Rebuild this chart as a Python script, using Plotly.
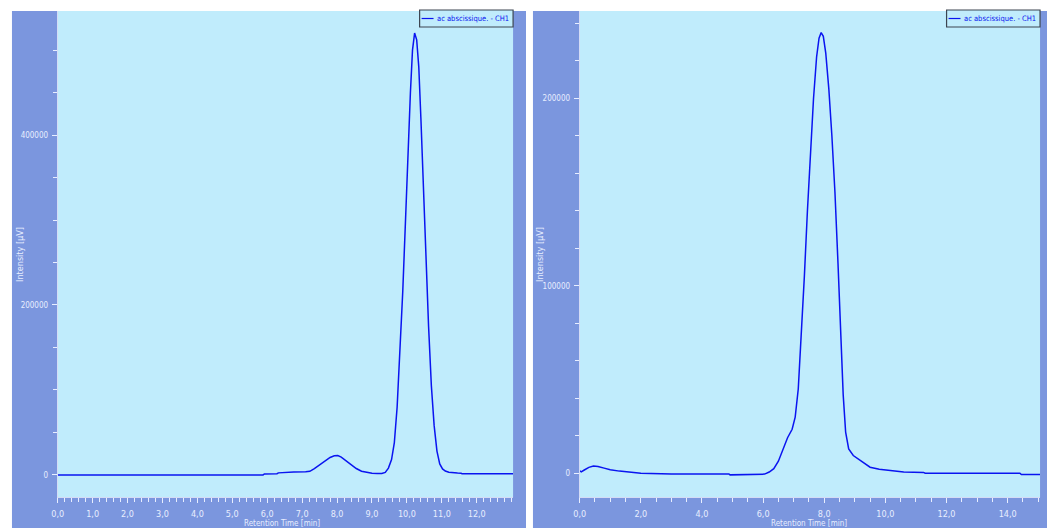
import plotly.graph_objects as go

W, H = 1047, 528

series_name = "ac abscissique. - CH1"

# Chromatogram 1 (retention time in min, intensity in µV)
time_a = [0.0, 1.0, 2.0, 3.0, 4.0, 5.0, 5.88, 5.92, 6.28, 6.32, 6.72, 6.76, 7.1, 7.22,
          7.35, 7.5, 7.65, 7.8, 7.92, 8.02, 8.12, 8.25, 8.4, 8.55, 8.7, 8.85, 9.0, 9.15,
          9.28, 9.38, 9.47, 9.56, 9.64, 9.72, 9.8, 9.88, 9.96, 10.04, 10.1, 10.16, 10.22,
          10.28, 10.34, 10.4, 10.47, 10.54, 10.62, 10.7, 10.78, 10.86, 10.94, 11.02, 11.1,
          11.2, 11.3, 11.45, 11.55, 11.58, 12.3, 13.04]
signal_a = [0, 0, 0, 0, 0, 0, 0, 1200, 1400, 2400, 2600, 3500, 3800, 4200,
            7500, 12000, 16500, 20500, 22500, 22700, 21000, 17000, 12500, 7500, 4300, 2800, 2000, 1600,
            1700, 3000, 8000, 18000, 38000, 80000, 140000, 215000, 300000, 390000, 450000, 500000, 520000,
            512000, 480000, 420000, 340000, 260000, 175000, 105000, 58000, 28000, 13000, 7000, 4500,
            3200, 2500, 2200, 2000, 1500, 1500, 1500]

# Chromatogram 2
time_b = [0.0, 0.05, 0.15, 0.3, 0.45, 0.6, 0.8, 1.0, 1.3, 1.6, 2.0, 3.0, 4.88, 4.92,
          5.9, 6.05, 6.2, 6.35, 6.5, 6.65, 6.8, 6.95, 7.05, 7.15, 7.25, 7.35, 7.45, 7.55,
          7.65, 7.75, 7.83, 7.9, 7.97, 8.05, 8.15, 8.25, 8.35, 8.45, 8.55, 8.62, 8.7,
          8.8, 8.95, 9.1, 9.3, 9.5, 9.8, 10.1, 10.6, 11.25, 11.3, 14.4, 14.45, 15.06]
signal_b = [1400, 800, 1800, 3200, 3900, 3700, 2800, 1900, 1200, 600, 100, -300, -300, -800,
            -800, -400, 700, 2500, 6500, 13000, 19000, 23500, 30000, 45000, 72000, 105000, 140000, 172000,
            200000, 222000, 232000, 235000, 233000, 224000, 205000, 180000, 150000, 112000, 70000, 42000, 22000,
            13000, 9500, 7800, 5200, 3300, 2200, 1600, 700, 500, 100, 100, -600, -600]

# Axis ticks
xticks_a = [0, 1, 2, 3, 4, 5, 6, 7, 8, 9, 10, 11, 12]
xlabels_a = ["0,0", "1,0", "2,0", "3,0", "4,0", "5,0", "6,0", "7,0", "8,0", "9,0", "10,0", "11,0", "12,0"]
yticks_a = [0, 200000, 400000]
ylabels_a = ["0", "200000", "400000"]

xticks_b = [0, 2, 4, 6, 8, 10, 12, 14]
xlabels_b = ["0,0", "2,0", "4,0", "6,0", "8,0", "10,0", "12,0", "14,0"]
yticks_b = [0, 100000, 200000]
ylabels_b = ["0", "100000", "200000"]

# Styling
PANEL = "#7B96DE"
PLOTBG = "#C0ECFC"
LINE = "#0A14F0"
TXT = "#E8EEFF"
FONT = "DejaVu Sans Condensed, Liberation Sans Narrow, sans-serif"


def fx(p):
    return p / W


def fy(p):
    return 1 - p / H


# pixel frames: outer panel and inner plot area
panels = [(6, 523), (530, 1047)]
plots = [(52, 510), (577, 1040)]
PTOP, PBOT = 11, 497

fig = go.Figure()
fig.add_trace(go.Scatter(x=time_a, y=signal_a, mode="lines", name=series_name,
                         line=dict(color=LINE, width=1.5), xaxis="x", yaxis="y"))
fig.add_trace(go.Scatter(x=time_b, y=signal_b, mode="lines", name=series_name,
                         line=dict(color=LINE, width=1.5), xaxis="x2", yaxis="y2"))

shapes = []
for (a, b) in panels:
    shapes.append(dict(type="rect", xref="paper", yref="paper", x0=fx(a), x1=fx(b),
                       y0=fy(H), y1=fy(PTOP), fillcolor=PANEL, line=dict(width=0), layer="below"))
for (a, b) in plots:
    shapes.append(dict(type="rect", xref="paper", yref="paper", x0=fx(a), x1=fx(b),
                       y0=fy(PBOT), y1=fy(PTOP), fillcolor=PLOTBG, line=dict(width=0), layer="below"))

# compact legend boxes in the top-right corner of each plot
LEG_W, LEG_TOP, LEG_BOT = 94, 10, 27
annots = []
for (a, b) in plots:
    shapes.append(dict(type="rect", xref="paper", yref="paper", x0=fx(b - LEG_W), x1=fx(b),
                       y0=fy(LEG_BOT), y1=fy(LEG_TOP), fillcolor=PLOTBG,
                       line=dict(color="#3C4450", width=1.2), layer="above"))
    ymid = (LEG_TOP + LEG_BOT) / 2
    shapes.append(dict(type="line", xref="paper", yref="paper", x0=fx(b - LEG_W + 2),
                       x1=fx(b - LEG_W + 14), y0=fy(ymid), y1=fy(ymid),
                       line=dict(color=LINE, width=1.2), layer="above"))
    annots.append((series_name, fx(b - 2), fy(ymid), 0, "right", LINE, 7.5))


def xaxis(dom, vals, labels, rng, minor, anchor):
    return dict(domain=dom, range=rng, anchor=anchor, tickmode="array", tickvals=vals,
                ticktext=labels, ticks="outside", ticklen=5, tickwidth=1, tickcolor=TXT,
                tickfont=dict(family=FONT, size=9, color=TXT), showgrid=False, zeroline=False,
                showline=True, linecolor="#D4DCF6", linewidth=1, ticklabelstandoff=3,
                minor=dict(tickmode="linear", tick0=0, dtick=minor, ticks="outside",
                           ticklen=4, tickcolor=TXT, showgrid=False))


def yaxis(dom, vals, labels, rng, minor, anchor):
    return dict(domain=dom, range=rng, anchor=anchor, tickmode="array", tickvals=vals,
                ticktext=labels, ticks="outside", ticklen=5, tickwidth=1, tickcolor=TXT,
                tickfont=dict(family=FONT, size=8, color=TXT), showgrid=False, zeroline=False,
                showline=True, linecolor="#D4DCF6", linewidth=1, ticklabelstandoff=2,
                minor=dict(tickmode="linear", tick0=0, dtick=minor, ticks="outside",
                           ticklen=4, tickcolor=TXT, showgrid=False))


ydom = [fy(PBOT), fy(PTOP)]

fig.update_layout(
    width=W, height=H, margin=dict(l=0, r=0, t=0, b=0),
    paper_bgcolor="white", plot_bgcolor="rgba(0,0,0,0)",
    showlegend=False,
    xaxis=xaxis([fx(52), fx(510)], xticks_a, xlabels_a, [0, 13.04], 0.2, "y"),
    yaxis=yaxis(ydom, yticks_a, ylabels_a, [-26000, 546000], 50000, "x"),
    xaxis2=xaxis([fx(577), fx(1040)], xticks_b, xlabels_b, [0, 15.06], 0.5, "y2"),
    yaxis2=yaxis(ydom, yticks_b, ylabels_b, [-12600, 246500], 20000, "x2"),
    shapes=shapes,
)

annots += [
    ("Intensity [µV]", fx(14), fy(254), -90, "center", TXT, 9),
    ("Intensity [µV]", fx(537), fy(254), -90, "center", TXT, 9),
    ("Retention Time [min]", fx(278), fy(523), 0, "center", TXT, 8),
    ("Retention Time [min]", fx(808), fy(523), 0, "center", TXT, 8),
]
for text, x, y, ang, xa, col, size in annots:
    fig.add_annotation(text=text, x=x, y=y, xref="paper", yref="paper", showarrow=False,
                       textangle=ang, xanchor=xa, yanchor="middle",
                       font=dict(family=FONT, size=size, color=col))

fig.write_html("out.html")
